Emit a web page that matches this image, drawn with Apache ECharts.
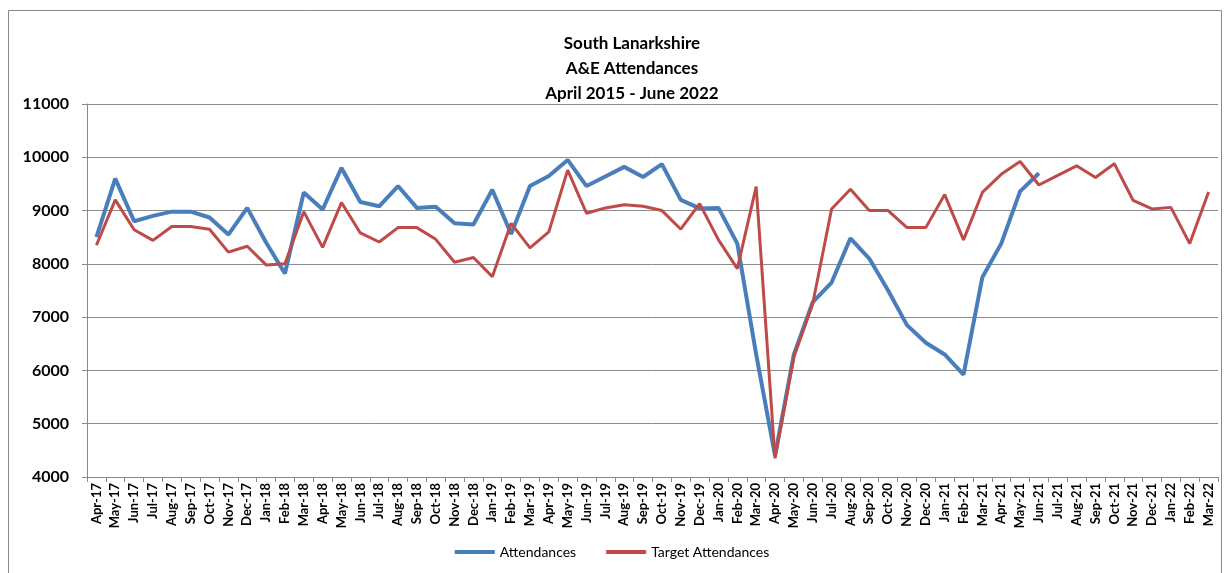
<!DOCTYPE html>
<html>
<head>
<meta charset="utf-8">
<script src="https://cdn.jsdelivr.net/npm/echarts@6/dist/echarts.min.js"></script>
<style>
  html, body { margin: 0; padding: 0; background: #fff; }
  #chart { width: 1224px; height: 573px; }
</style>
</head>
<body>
<div id="chart"></div>
<script>
// months shown on the x axis
const months = [
  'Apr-17','May-17','Jun-17','Jul-17','Aug-17','Sep-17','Oct-17','Nov-17','Dec-17','Jan-18','Feb-18','Mar-18',
  'Apr-18','May-18','Jun-18','Jul-18','Aug-18','Sep-18','Oct-18','Nov-18','Dec-18','Jan-19','Feb-19','Mar-19',
  'Apr-19','May-19','Jun-19','Jul-19','Aug-19','Sep-19','Oct-19','Nov-19','Dec-19','Jan-20','Feb-20','Mar-20',
  'Apr-20','May-20','Jun-20','Jul-20','Aug-20','Sep-20','Oct-20','Nov-20','Dec-20','Jan-21','Feb-21','Mar-21',
  'Apr-21','May-21','Jun-21','Jul-21','Aug-21','Sep-21','Oct-21','Nov-21','Dec-21','Jan-22','Feb-22','Mar-22'
];

// actual attendances (stops at Jun-21)
const attendances = [
  8500, 9600, 8800, 8900, 8980, 8980, 8870, 8550, 9050, 8400, 7820, 9340,
  9020, 9800, 9160, 9080, 9460, 9050, 9070, 8760, 8740, 9390, 8560, 9460,
  9650, 9950, 9460, 9640, 9820, 9630, 9870, 9200, 9040, 9050, 8380, 6300,
  4400, 6300, 7280, 7650, 8480, 8100, 7500, 6850, 6520, 6300, 5920, 7750,
  8380, 9360, 9700
];

// target attendances
const targetAttendances = [
  8350, 9200, 8640, 8440, 8700, 8700, 8650, 8220, 8330, 7980, 8000, 8980,
  8310, 9150, 8580, 8410, 8680, 8680, 8460, 8030, 8120, 7760, 8760, 8300,
  8600, 9760, 8950, 9050, 9110, 9080, 9000, 8650, 9130, 8450, 7910, 9450,
  4350, 6250, 7250, 9030, 9400, 9000, 9000, 8680, 8680, 9300, 8450, 9340,
  9680, 9920, 9480, 9660, 9840, 9620, 9880, 9190, 9030, 9060, 8380, 9350
];

const yMin = 4000, yMax = 11000, yStep = 1000;

const chart = echarts.init(document.getElementById('chart'));

chart.setOption({
  animation: false,
  backgroundColor: '#fff',
  textStyle: { fontFamily: 'Lato, "Open Sans", sans-serif' },
  title: {
    text: 'South Lanarkshire\nA&E Attendances\nApril 2015 - June 2022',
    left: 627,
    textAlign: 'center',
    top: 26,
    textStyle: { fontSize: 17, fontWeight: 'bold', color: '#000', lineHeight: 25, fontFamily: 'Lato, sans-serif' }
  },
  graphic: [{
    type: 'rect',
    shape: { x: 8.5, y: 10.5, width: 1213, height: 570 },
    style: { fill: 'none', stroke: '#888', lineWidth: 1 },
    silent: true
  }],
  legend: {
    bottom: 9,
    left: 'center',
    itemWidth: 40,
    itemHeight: 4,
    itemGap: 30,
    icon: 'rect',
    textStyle: { fontSize: 14, color: '#000' },
    data: ['Attendances', 'Target Attendances']
  },
  grid: { left: 87, right: 6, top: 104, bottom: 96 },
  xAxis: {
    type: 'category',
    data: months,
    boundaryGap: true,
    axisLine: { lineStyle: { color: '#888' } },
    axisTick: { show: true, alignWithLabel: false, lineStyle: { color: '#888' }, length: 5 },
    axisLabel: {
      rotate: 90,
      interval: 0,
      fontSize: 13,
      fontWeight: 'bold',
      color: '#000',
      margin: 6
    }
  },
  yAxis: {
    type: 'value',
    min: yMin,
    max: yMax,
    interval: yStep,
    axisLine: { show: true, lineStyle: { color: '#888' } },
    axisTick: { show: true, inside: false, length: 5, lineStyle: { color: '#888' } },
    axisLabel: { fontSize: 16, fontWeight: 'bold', color: '#000', margin: 18, formatter: v => String(v) },
    splitLine: { lineStyle: { color: '#8c8c8c', width: 1 } }
  },
  series: [
    {
      name: 'Attendances',
      type: 'line',
      data: attendances,
      symbol: 'none',
      color: '#4a7ebb',
      lineStyle: { width: 4, color: '#4a7ebb' },
      z: 3
    },
    {
      name: 'Target Attendances',
      type: 'line',
      data: targetAttendances,
      symbol: 'none',
      color: '#be4b48',
      lineStyle: { width: 3, color: '#be4b48' },
      z: 4
    }
  ]
});
</script>
</body>
</html>
